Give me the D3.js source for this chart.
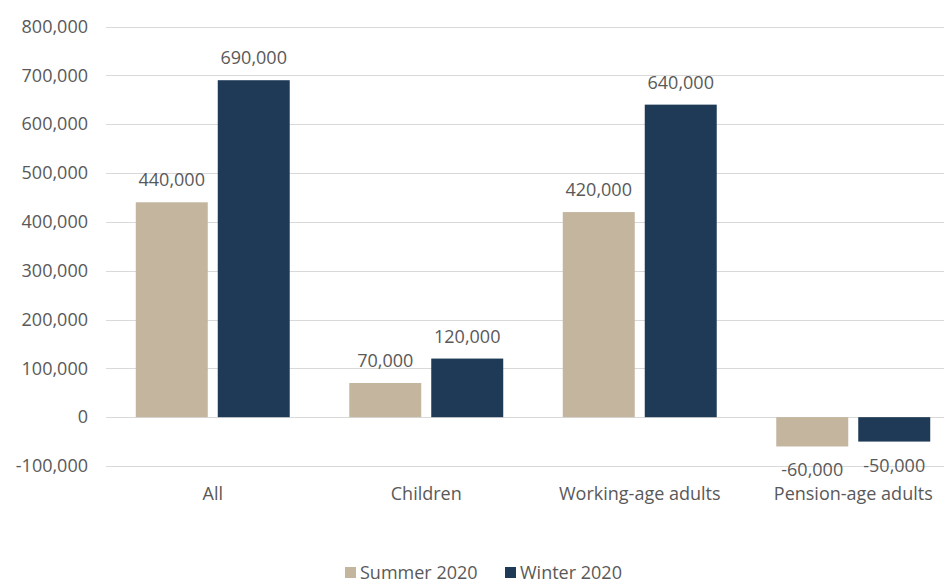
<!DOCTYPE html>
<html>
<head>
<meta charset="utf-8">
<script src="https://cdn.jsdelivr.net/npm/d3@7"></script>
<style>
  body { margin: 0; background: #fff; }
  svg { display: block; font-family: "Open Sans", sans-serif; }
</style>
</head>
<body>
<svg id="chart" width="944" height="583"></svg>
<script>
var CATEGORIES = ['All', 'Children', 'Working-age adults', 'Pension-age adults'];
var SERIES = ['Summer 2020', 'Winter 2020'];
var SUMMER = [440000, 70000, 420000, -60000];
var WINTER = [690000, 120000, 640000, -50000];
var Y_TICKS = [-100000, 0, 100000, 200000, 300000, 400000, 500000, 600000, 700000, 800000];
var COLORS = ['#c4b59f', '#1f3a56'];

var svg = d3.select('#chart');
var textColor = '#595959';
var fontSize = '18px';

var x = d3.scaleBand().domain(CATEGORIES).range([106, 960]).paddingInner(0).paddingOuter(0);
var xs = d3.scaleBand().domain(SERIES).range([0, x.bandwidth()]).paddingInner(0.122).paddingOuter(0.363);
var y = d3.scaleLinear().domain([-100000, 800000]).range([466, 26.5]);

var fmt = d3.formatLocale({ decimal: '.', thousands: ',', grouping: [3], currency: ['', ''], minus: '-' }).format(',');

// gridlines
svg.append('g').selectAll('line').data(Y_TICKS)
  .enter().append('line')
  .attr('x1', 106).attr('x2', 944)
  .attr('y1', function(d) { return Math.round(y(d)) + 0.5; })
  .attr('y2', function(d) { return Math.round(y(d)) + 0.5; })
  .attr('stroke', '#d9d9d9')
  .attr('stroke-width', 1);

// y axis labels
var yAxis = d3.axisLeft(y).tickValues(Y_TICKS).tickFormat(fmt).tickSize(0).tickPadding(0);
var ya = svg.append('g').attr('transform', 'translate(88,0)').call(yAxis);
ya.select('.domain').remove();
ya.selectAll('text').attr('fill', textColor).style('font-size', fontSize).style('font-family', '"Open Sans", sans-serif');

// x axis labels
var xAxis = d3.axisBottom(x).tickSize(0).tickPadding(0);
var xa = svg.append('g').attr('transform', 'translate(0,487)').call(xAxis);
xa.select('.domain').remove();
xa.selectAll('text').attr('fill', textColor).style('font-size', fontSize).style('font-family', '"Open Sans", sans-serif');

// bars
var rows = CATEGORIES.map(function(c, i) {
  return { cat: c, vals: [SUMMER[i], WINTER[i]] };
});

var groups = svg.append('g').selectAll('g').data(rows)
  .enter().append('g')
  .attr('transform', function(d) { return 'translate(' + x(d.cat) + ',0)'; });

var cells = groups.selectAll('g').data(function(d) {
  return d.vals.map(function(v, j) { return { series: SERIES[j], value: v, j: j }; });
}).enter().append('g');

cells.append('rect')
  .attr('x', function(d) { return xs(d.series); })
  .attr('width', xs.bandwidth())
  .attr('y', function(d) { return y(Math.max(0, d.value)); })
  .attr('height', function(d) { return Math.abs(y(d.value) - y(0)); })
  .attr('fill', function(d) { return COLORS[d.j]; });

cells.append('text')
  .attr('x', function(d) { return xs(d.series) + xs.bandwidth() / 2; })
  .attr('y', function(d) { return d.value >= 0 ? y(d.value) - 16 : y(d.value) + 30; })
  .attr('text-anchor', 'middle')
  .attr('fill', textColor)
  .style('font-size', fontSize)
  .text(function(d) { return fmt(d.value); });

// legend
var legend = svg.append('g').attr('transform', 'translate(0,573)');
var legendX = [345, 505];
SERIES.forEach(function(s, i) {
  var g = legend.append('g').attr('transform', 'translate(' + legendX[i] + ',0)');
  g.append('rect').attr('x', 0).attr('y', -6).attr('width', 11).attr('height', 11).attr('fill', COLORS[i]);
  g.append('text').attr('x', 15).attr('y', 6).attr('fill', textColor).style('font-size', fontSize).text(s);
});
</script>
</body>
</html>
